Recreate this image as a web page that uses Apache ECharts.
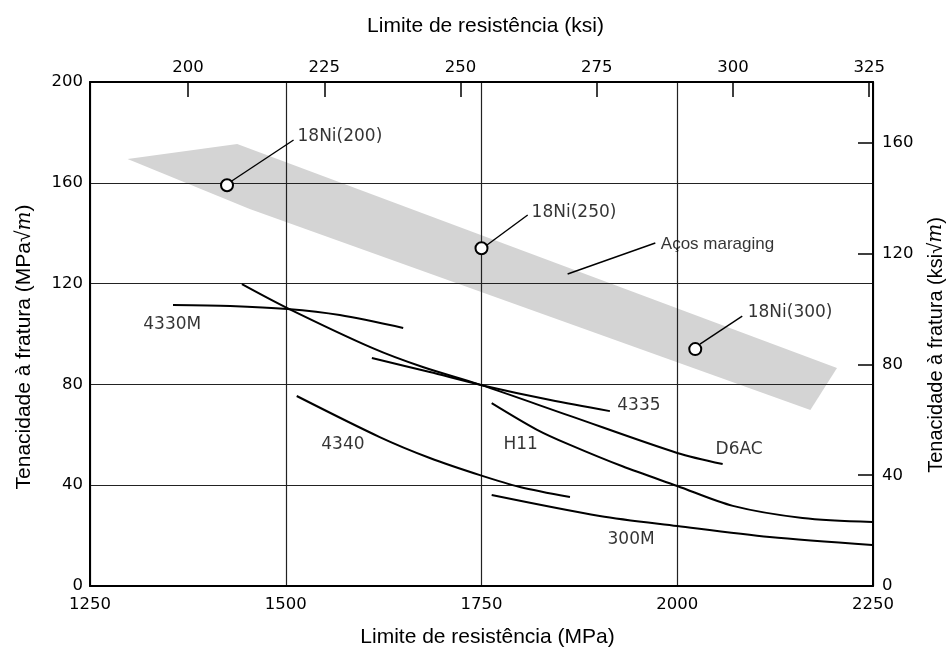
<!DOCTYPE html>
<html>
<head>
<meta charset="utf-8">
<script src="https://cdn.jsdelivr.net/npm/echarts@6/dist/echarts.min.js"></script>
<style>
html,body{margin:0;padding:0;background:#fff;}
#chart{width:949px;height:649px;}
</style>
</head>
<body>
<div id="chart"></div>
<script>
// ---- data (MPa on x, MPa√m on y) ----
const mpaTicks = [1250, 1500, 1750, 2000, 2250];
const ksiTicks = [200, 225, 250, 275, 300, 325];
const kicTicks = [0, 40, 80, 120, 160, 200];
const ksiKicTicks = [0, 40, 80, 120, 160];

const c4330M_x = [1356, 1429, 1502, 1569, 1650];
const c4330M_y = [111.5, 111.1, 109.9, 107.5, 102.4];
const cD6AC_x = [1444, 1502, 1611, 1675, 1749, 1863, 2000, 2058];
const cD6AC_y = [119.8, 110.3, 94.4, 86.9, 79.8, 67.5, 52.8, 48.4];
const c4335_x = [1610, 1684, 1749, 1838, 1914];
const c4335_y = [90.5, 84.9, 79.8, 73.8, 69.4];
const cH11_x = [1763, 1821, 1863, 1930, 2000, 2071, 2160, 2249];
const cH11_y = [72.6, 62.0, 56.0, 47.5, 39.7, 31.8, 27.0, 25.4];
const c4340_x = [1514, 1620, 1684, 1748, 1799, 1863];
const c4340_y = [75.4, 59.1, 50.8, 44.0, 39.3, 35.3];
const c300M_x = [1763, 1901, 2000, 2118, 2249];
const c300M_y = [36.1, 27.8, 23.8, 19.4, 16.3];

// maraging steel band (polygon vertices)
const band_x = [1298, 1438, 2204, 2170, 1454];
const band_y = [169.4, 175.4, 86.5, 69.8, 149.6];

// 18Ni grades (open circles)
const ni_names = ['18Ni(200)', '18Ni(250)', '18Ni(300)'];
const ni_x = [1425, 1750, 2023];
const ni_y = [159, 134, 94];

// leader lines [x1, y1, x2, y2]
const leaders = [
  [1431, 160.7, 1510, 177.0],
  [1757, 135.3, 1809, 147.2],
  [2029, 96.0, 2083, 107.1],
  [1860, 123.8, 1972, 136.1]
];
// annotation texts (left-anchored)
const noteNames = ['18Ni(200)', '18Ni(250)', '18Ni(300)', 'Aços maraging'];
const note_x = [1515, 1814, 2090, 1979];
const note_y = [178.2, 148.2, 108.5, 135.7];
// curve labels (centered)
const curveNames = ['4330M', '4340', 'H11', '4335', 'D6AC', '300M'];
const cl_x = [1355, 1573, 1800, 1951, 2079, 1941];
const cl_y = [103.6, 56.0, 56.3, 71.4, 54.0, 18.3];

const FONT = 'Liberation Sans, Arial, Helvetica, sans-serif';
const SCAN = 'DejaVu Sans, Verdana, sans-serif';
const pairs = (xs, ys) => xs.map((x, i) => [x, ys[i]]);

const curveStyle = { color: '#000', width: 2 };
function curve(name, xs, ys) {
  return {
    name, type: 'line', data: pairs(xs, ys), smooth: 0.3, showSymbol: false,
    lineStyle: curveStyle, itemStyle: { color: '#000' }, z: 3, silent: true
  };
}

const chart = echarts.init(document.getElementById('chart'));
const tickLabel = { fontFamily: SCAN, fontSize: 16.5, color: '#000', formatter: v => String(v) };
const nameStyle = { fontFamily: FONT, fontSize: 21, color: '#000',
  rich: { i: { fontFamily: 'DejaVu Serif, serif', fontStyle: 'italic', fontSize: 20, color: '#000' } } };
const frame = { show: true, onZero: false, lineStyle: { color: '#000', width: 2 } };
const grid = { show: true, lineStyle: { color: '#222', width: 1.2 } };

const option = {
  backgroundColor: '#fff',
  animation: false,
  grid: { left: 90, right: 76, top: 82, bottom: 63, containLabel: false, outerBoundsMode: 'none' },
  xAxis: [
    {
      type: 'value', position: 'bottom', min: 1250, max: 2250, interval: 250,
      axisLine: frame, axisTick: { show: false }, splitLine: grid,
      axisLabel: Object.assign({ margin: 10 }, tickLabel),
      name: 'Limite de resistência (MPa)', nameLocation: 'middle', nameGap: 41,
      nameTextStyle: Object.assign({ padding: [0, 0, 0, 12] }, nameStyle)
    },
    {
      type: 'value', position: 'top', min: 182.0, max: 325.7,
      axisLine: frame, splitLine: { show: false },
      axisTick: { show: true, inside: true, length: 15, customValues: ksiTicks,
        lineStyle: { color: '#000', width: 1.5 } },
      axisLabel: Object.assign({ margin: 6, customValues: ksiTicks }, tickLabel),
      name: 'Limite de resistência (ksi)', nameLocation: 'middle', nameGap: 45,
      nameTextStyle: Object.assign({ padding: [0, 0, 0, 8] }, nameStyle)
    }
  ],
  yAxis: [
    {
      type: 'value', position: 'left', min: 0, max: 200, interval: 40,
      axisLine: frame, axisTick: { show: false }, splitLine: grid,
      axisLabel: Object.assign({ margin: 7 }, tickLabel),
      name: 'Tenacidade à fratura (MPa√{i|m})', nameLocation: 'middle', nameGap: 55,
      nameRotate: 90, nameTextStyle: Object.assign({ padding: [0, 26, 0, 0] }, nameStyle)
    },
    {
      type: 'value', position: 'right', min: 0, max: 182,
      axisLine: frame, splitLine: { show: false },
      axisTick: { show: true, inside: true, length: 15, customValues: ksiKicTicks,
        lineStyle: { color: '#000', width: 1.5 } },
      axisLabel: Object.assign({ margin: 9, customValues: ksiKicTicks }, tickLabel),
      name: 'Tenacidade à fratura (ksi√{i|m})', nameLocation: 'middle', nameGap: 53,
      nameRotate: 90, nameTextStyle: Object.assign({}, nameStyle, { fontSize: 20, padding: [0, 22, 0, 0] })
    }
  ],
  series: [
    {
      name: 'Aços maraging', type: 'custom', z: -1, silent: true,
      data: [[band_x[0], band_y[0]]],
      renderItem: function (params, api) {
        const pts = band_x.map((x, i) => api.coord([x, band_y[i]]));
        return { type: 'polygon', shape: { points: pts }, style: { fill: '#d4d4d4' } };
      }
    },
    curve('4330M', c4330M_x, c4330M_y),
    curve('D6AC', cD6AC_x, cD6AC_y),
    curve('4335', c4335_x, c4335_y),
    curve('H11', cH11_x, cH11_y),
    curve('4340', c4340_x, c4340_y),
    curve('300M', c300M_x, c300M_y),
    ...leaders.map((l, k) => ({
      name: 'leader' + k, type: 'line', data: [[l[0], l[1]], [l[2], l[3]]],
      showSymbol: false, lineStyle: { color: '#000', width: 1.4 }, z: 4, silent: true
    })),
    {
      name: '18Ni', type: 'scatter', data: ni_x.map((x, i) => ({ value: [x, ni_y[i]], name: ni_names[i] })),
      symbol: 'circle', symbolSize: 12, z: 6, silent: true,
      itemStyle: { color: '#fff', borderColor: '#000', borderWidth: 2, opacity: 1 }
    },
    {
      name: 'notes', type: 'scatter', symbolSize: 0, z: 7, silent: true,
      data: note_x.map((x, i) => ({ value: [x, note_y[i]], name: noteNames[i] })),
      label: {
        show: true, position: 'right', distance: 0, formatter: '{b}',
        fontFamily: SCAN, fontSize: 17, color: '#000'
      },
      labelLayout: { hideOverlap: false }
    },
    {
      name: 'curveLabels', type: 'scatter', symbolSize: 0, z: 7, silent: true,
      data: cl_x.map((x, i) => ({ value: [x, cl_y[i]], name: curveNames[i] })),
      label: {
        show: true, position: 'inside', formatter: '{b}',
        fontFamily: SCAN, fontSize: 17, color: '#000'
      }
    }
  ]
};
// "Aços maraging" is set in a plain regular face
option.series[option.series.length - 2].data[3].label = { fontFamily: FONT, fontSize: 17 };
chart.setOption(option);
</script>
</body>
</html>
